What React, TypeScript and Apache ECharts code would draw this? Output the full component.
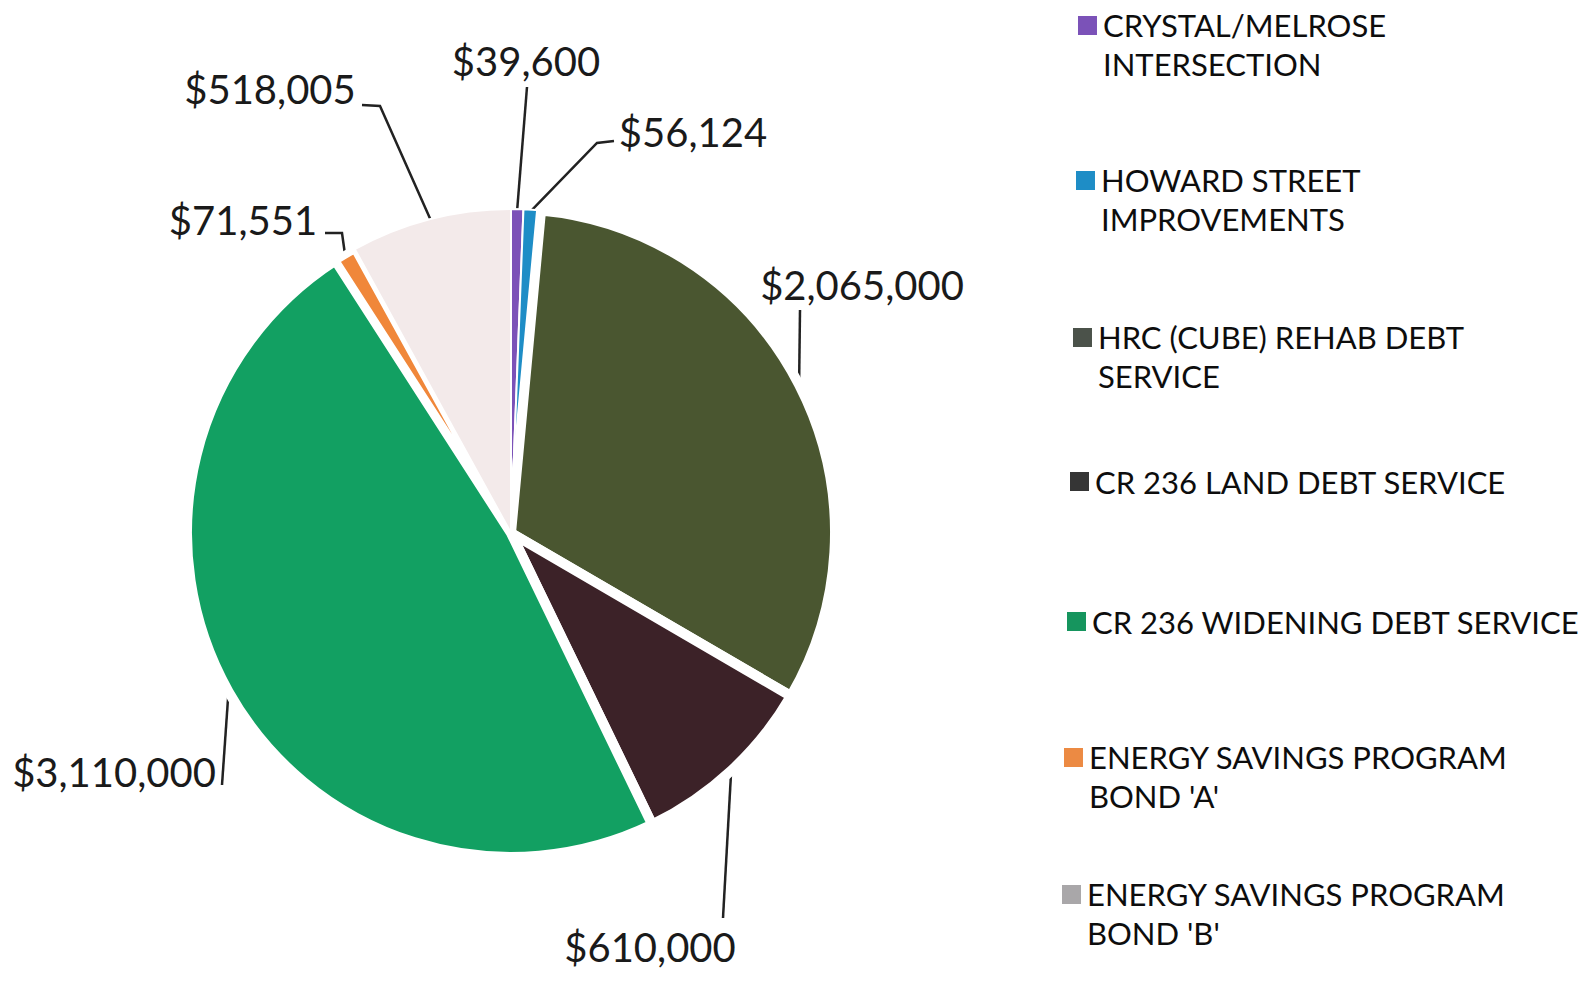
import React, { useEffect, useRef } from "react";
import * as echarts from "echarts";

const categories = [
  "CRYSTAL/MELROSE INTERSECTION",
  "HOWARD STREET IMPROVEMENTS",
  "HRC (CUBE) REHAB DEBT SERVICE",
  "CR 236 LAND DEBT SERVICE",
  "CR 236 WIDENING DEBT SERVICE",
  "ENERGY SAVINGS PROGRAM BOND 'A'",
  "ENERGY SAVINGS PROGRAM BOND 'B'",
];
const legendText = [
  "CRYSTAL/MELROSE\nINTERSECTION",
  "HOWARD STREET\nIMPROVEMENTS",
  "HRC (CUBE) REHAB DEBT\nSERVICE",
  "CR 236 LAND DEBT SERVICE",
  "CR 236 WIDENING DEBT SERVICE",
  "ENERGY SAVINGS PROGRAM\nBOND 'A'",
  "ENERGY SAVINGS PROGRAM\nBOND 'B'",
];
const values = [39600, 56124, 2065000, 610000, 3110000, 71551, 518005];
const colors = ["#7b52b8", "#1e8dc6", "#4a5630", "#3c2228", "#12a062", "#f0873a", "#f3eaea"];
const legendIconColors = ["#7b52b8", "#1e8dc6", "#4b524a", "#353535", "#16955e", "#ec8a43", "#a9a7a9"];
// white separation (explosion look) per slice
const gapWidths = [2, 2, 10, 10, 10, 8, 2];

// layout constants: label centres, leader-line elbow and end points, legend positions
const labelPos = [
  [526, 61],
  [693, 132],
  [862, 285],
  [650, 947],
  [114, 772],
  [243, 220],
  [270, 89],
];
const leaderElbow = [
  [527, 87],
  [597, 143],
  [800, 310],
  [723, 918],
  [222, 785],
  [342, 233],
  [380, 106],
];
const leaderEnd = [
  [527, 87],
  [614, 141],
  [800, 310],
  [723, 918],
  [222, 785],
  [325, 233],
  [362, 105],
];
const legendLeft = [1078, 1076, 1073, 1070, 1067, 1064, 1062];
const legendTop = [5, 160, 317, 462, 602, 737, 874];

const TWO_LINE_ICON = "path://M0,0H10V10H0Z M0,29.5L0.001,29.5";

export default function App() {
  const ref = useRef<HTMLDivElement>(null);
  useEffect(() => {
    if (!ref.current) return;
    const chart = echarts.init(ref.current, null, { renderer: "svg" });
    const fmt = (v: number) => "$" + v.toLocaleString("en-US");
    const legends = categories.map((name, i) => {
      const twoLine = legendText[i].includes("\n");
      return {
        orient: "vertical",
        left: legendLeft[i],
        top: legendTop[i],
        padding: 0,
        itemGap: 0,
        itemWidth: 19,
        itemHeight: twoLine ? 56 : 19,
        icon: twoLine ? TWO_LINE_ICON : "rect",
        selectedMode: false,
        itemStyle: { borderWidth: 0, color: legendIconColors[i] },
        data: [{ name, icon: twoLine ? TWO_LINE_ICON : "rect" }],
        formatter: () => legendText[i],
        textStyle: {
          fontFamily: "Lato",
          fontSize: 31,
          lineHeight: 39,
          color: "#0d0d0d",
          padding: [0, 0, 0, 1],
        },
      };
    });
    chart.setOption({
      animation: false,
      backgroundColor: "#ffffff",
      legend: legends,
      series: [
        {
          type: "pie",
          center: [511, 533],
          radius: 324,
          startAngle: 90,
          clockwise: true,
          avoidLabelOverlap: false,
          selectedMode: false,
          emphasis: { disabled: true },
          itemStyle: { borderColor: "#ffffff" },
          label: {
            show: true,
            position: "outside",
            formatter: (p: any) => fmt(p.value),
            fontFamily: "Lato",
            fontSize: 40,
            color: "#1a1a1a",
          },
          labelLine: {
            show: true,
            length: 20,
            length2: 20,
            lineStyle: { color: "#222", width: 2.5 },
          },
          labelLayout: (params: any) => {
            const i = params.dataIndex;
            const p = labelPos[i];
            const pts = params.labelLinePoints;
            const anchor = pts && pts[0] ? pts[0] : leaderElbow[i];
            return {
              x: p[0],
              y: p[1],
              align: "center",
              verticalAlign: "middle",
              labelLinePoints: [anchor, leaderElbow[i], leaderEnd[i]],
            };
          },
          data: categories.map((name, i) => ({
            name,
            value: values[i],
            itemStyle: { color: colors[i], borderWidth: gapWidths[i] },
          })),
        },
      ],
    });
    return () => chart.dispose();
  }, []);
  return (
    <div
      ref={ref}
      style={{ position: "fixed", left: 0, top: 0, width: 1589, height: 995 }}
    />
  );
}
